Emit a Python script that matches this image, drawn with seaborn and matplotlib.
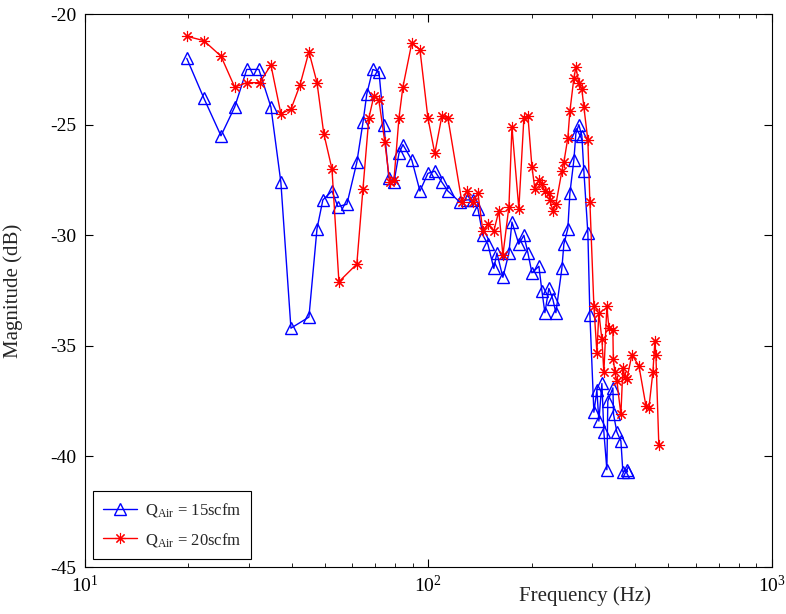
import numpy as np
import pandas as pd
import matplotlib
matplotlib.use("Agg")
import matplotlib.pyplot as plt
import seaborn as sns

# Frequency response magnitude for two air flow rates
freq_15 = [19.8, 22.2, 24.9, 27.3, 29.6, 32.1, 34.8, 37.2, 39.8, 44.9, 47.4, 49.3,
           52.4, 54.5, 57.9, 61.9, 64.5, 66.2, 68.9, 71.8, 74.2, 76.7, 79.4, 82.1,
           84.3, 89.5, 94.5, 99.7, 104.4, 109.5, 114.0, 123.5, 129.5, 134.8, 139.4,
           144.1, 149.0, 155.1, 158.3, 164.8, 171.6, 175.1, 183.4, 189.7, 194.9,
           200.2, 209.8, 214.0, 218.4, 224.3, 230.4, 235.1, 244.7, 248.0, 254.7,
           258.2, 265.2, 268.8, 274.2, 279.8, 283.6, 291.3, 295.3, 303.3, 309.5,
           313.6, 320.0, 324.3, 330.9, 333.0, 344.5, 346.0, 353.9, 363.5, 368.4,
           378.4, 380.0]
mag_15 = [-22.0, -23.8, -25.5, -24.2, -22.5, -22.5, -24.2, -27.6, -34.2, -33.7,
          -29.7, -28.4, -28.0, -28.7, -28.6, -26.7, -24.9, -23.6, -22.5, -22.6,
          -25.0, -27.4, -27.6, -26.3, -25.9, -26.6, -28.0, -27.2, -27.1, -27.6,
          -28.0, -28.5, -28.4, -28.4, -28.8, -30.0, -30.4, -31.5, -30.8, -31.9,
          -30.8, -29.4, -30.4, -30.0, -30.8, -31.7, -31.4, -32.5, -33.5, -32.4,
          -32.9, -33.5, -31.5, -30.4, -29.7, -28.1, -26.6, -25.4, -25.0, -25.5,
          -27.1, -29.9, -33.6, -38.0, -37.0, -38.4, -36.7, -38.9, -40.6, -37.5,
          -36.9, -38.1, -38.9, -39.3, -40.7, -40.6, -40.7]

freq_20 = [19.8, 22.2, 24.9, 27.3, 29.6, 32.3, 34.8, 37.2, 39.8, 42.3, 44.9, 47.4,
           49.6, 52.4, 54.9, 61.9, 64.5, 67.1, 69.4, 71.8, 74.7, 77.2, 79.4, 82.1,
           84.3, 89.5, 94.5, 99.7, 104.4, 109.5, 114.0, 125.2, 129.5, 134.8, 139.4,
           144.1, 149.0, 155.1, 160.4, 164.8, 171.6, 175.1, 183.4, 189.7, 194.9,
           200.2, 204.2, 209.8, 214.0, 218.4, 224.3, 225.8, 230.4, 235.1, 244.7,
           248.0, 254.7, 258.2, 265.2, 268.8, 274.2, 279.8, 283.6, 291.3, 295.3,
           303.3, 309.5, 313.6, 320.0, 324.3, 330.9, 335.4, 344.5, 345.5, 349.2,
           353.9, 363.5, 368.4, 373.3, 378.4, 391.3, 410.1, 429.8, 438.5, 450.4,
           456.5, 459.6, 468.8]
mag_20 = [-21.0, -21.2, -21.9, -23.3, -23.1, -23.1, -22.3, -24.5, -24.3, -23.2,
          -21.7, -23.1, -25.4, -27.0, -32.1, -31.3, -27.9, -24.7, -23.7, -23.9,
          -25.8, -27.6, -27.5, -24.7, -23.3, -21.3, -21.6, -24.7, -26.3, -24.6,
          -24.7, -28.5, -28.0, -28.5, -28.1, -29.8, -29.5, -29.8, -28.9, -30.9,
          -28.7, -25.1, -28.8, -24.7, -24.6, -26.9, -27.9, -27.5, -27.7, -28.0,
          -28.1, -28.4, -28.9, -28.6, -27.1, -26.7, -25.6, -24.4, -22.9, -22.4,
          -23.1, -23.4, -24.2, -25.7, -28.5, -33.2, -35.3, -33.5, -34.7, -36.2,
          -33.2, -34.2, -34.3, -35.6, -36.2, -36.6, -38.1, -36.0, -36.4, -36.5,
          -35.4, -35.9, -37.7, -37.8, -36.2, -34.8, -35.4, -39.5]

series_labels = [r"Q$_{\mathrm{Air}}$ = 15scfm", r"Q$_{\mathrm{Air}}$ = 20scfm"]

df15 = pd.DataFrame({"f": freq_15, "m": mag_15})
df20 = pd.DataFrame({"f": freq_20, "m": mag_20})

sns.set_theme(style="ticks")
plt.rcParams["font.family"] = ["Liberation Serif", "DejaVu Serif"]
plt.rcParams["mathtext.fontset"] = "custom"
plt.rcParams["mathtext.rm"] = "Liberation Serif"
plt.rcParams["mathtext.it"] = "Liberation Serif:italic"

fig = plt.figure(figsize=(7.86, 6.14), dpi=100)
ax = fig.add_axes([0.108, 0.0765, 0.874, 0.9005])

sns.lineplot(data=df15, x="f", y="m", ax=ax, sort=False, estimator=None,
             color="#0000ff", lw=1.0, marker="^", markersize=9,
             markerfacecolor="none", markeredgecolor="#0000ff", markeredgewidth=1.0,
             label=series_labels[0])
sns.lineplot(data=df20, x="f", y="m", ax=ax, sort=False, estimator=None,
             color="#ff0000", lw=1.0, marker=(8, 2, 0), markersize=8,
             markeredgecolor="#ff0000", markeredgewidth=0.8,
             label=series_labels[1])

ax.set_xscale("log")
ax.set_xlim(10, 1000)
ax.set_ylim(-45, -20)
ax.set_yticks([-45, -40, -35, -30, -25, -20])
ax.set_yticklabels(["-45", "-40", "-35", "-30", "-25", "-20"])
ax.set_xticks([10, 100, 1000])
ax.set_xticklabels([r"$10^{1}$", r"$10^{2}$", r"$10^{3}$"])

ax.tick_params(which="both", direction="in", top=True, right=True,
               labelsize=14, colors="black")
ax.tick_params(which="major", length=6, width=0.8, pad=6)
ax.tick_params(which="minor", length=3, width=0.6)
for s in ax.spines.values():
    s.set_color("black")
    s.set_linewidth(0.8)

ax.set_xlabel("Frequency (Hz)", fontsize=15)
ax.set_ylabel("Magnitude (dB)", fontsize=15)
ax.xaxis.set_label_coords(0.728, -0.035)
ax.yaxis.set_label_coords(-0.09, 0.5)

leg = ax.legend(loc="lower left", fontsize=12, frameon=True, fancybox=False,
                framealpha=1, edgecolor="black", handlelength=2.0,
                handletextpad=0.5, borderaxespad=0.5, labelspacing=0.7,
                borderpad=0.6)
leg.get_frame().set_linewidth(0.8)

fig.savefig("out.png", dpi=100, facecolor="white")
